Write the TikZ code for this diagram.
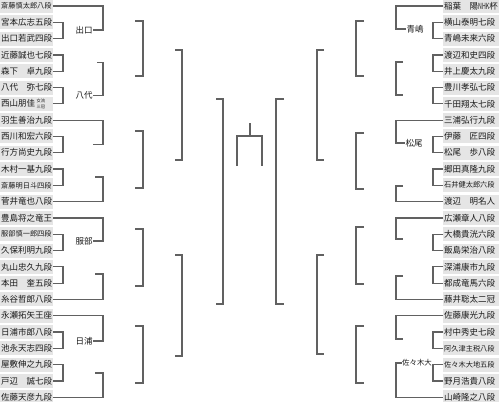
\documentclass[tikz,border=0pt]{standalone}
\usepackage{fontspec}
\setmainfont{Noto Sans CJK JP}
\newcommand{\nhk}{\scalebox{0.62}[1]{NHK}}
\newcommand{\stk}[2]{\raisebox{-2pt}{\fontsize{4.2}{5}\selectfont\vbox{\offinterlineskip\hbox{#1}\kern2pt\hbox{#2}}}}
\begin{document}
\begin{tikzpicture}[x=1pt,y=-1pt,
  ln/.style={draw=black!62, line width=1.2pt},
  lname/.style={fill=black!10, inner xsep=1pt, inner ysep=0pt, minimum height=14pt, text width=51pt, align=left, anchor=west, font=\fontsize{8.5}{9}\selectfont, text=black!90},
  rname/.style={lname, text width=54pt},
  nmsmall/.style={font=\fontsize{7.2}{8}\selectfont},
  lab/.style={inner sep=0pt, font=\fontsize{8.5}{9}\selectfont, text=black!90}]
\useasboundingbox (0,0) rectangle (499,402);

% left names
\node[lname,nmsmall] (L1) at (0,6) {斎藤慎太郎八段};
\node[lname] (L2) at (0,22.3) {宮本広志五段};
\node[lname] (L3) at (0,38.6) {出口若武四段};
\node[lname] (L4) at (0,54.9) {近藤誠也七段};
\node[lname] (L5) at (0,71.2) {森下　卓九段};
\node[lname] (L6) at (0,87.5) {八代　弥七段};
\node[lname] (L7) at (0,103.8) {西山朋佳\,\stk{女流}{三冠}};
\node[lname] (L8) at (0,120.1) {羽生善治九段};
\node[lname] (L9) at (0,136.4) {西川和宏六段};
\node[lname] (L10) at (0,152.7) {行方尚史九段};
\node[lname] (L11) at (0,169) {木村一基九段};
\node[lname,nmsmall] (L12) at (0,185.3) {斎藤明日斗四段};
\node[lname] (L13) at (0,201.6) {菅井竜也八段};
\node[lname] (L14) at (0,217.9) {豊島将之竜王};
\node[lname,nmsmall] (L15) at (0,234.2) {服部慎一郎四段};
\node[lname] (L16) at (0,250.5) {久保利明九段};
\node[lname] (L17) at (0,266.8) {丸山忠久九段};
\node[lname] (L18) at (0,283.1) {本田　奎五段};
\node[lname] (L19) at (0,299.4) {糸谷哲郎八段};
\node[lname] (L20) at (0,315.7) {永瀬拓矢王座};
\node[lname] (L21) at (0,332) {日浦市郎八段};
\node[lname] (L22) at (0,348.3) {池永天志四段};
\node[lname] (L23) at (0,364.6) {屋敷伸之九段};
\node[lname] (L24) at (0,380.9) {戸辺　誠七段};
\node[lname] (L25) at (0,397.2) {佐藤天彦九段};

% right names
\node[rname] (R1) at (443,6) {稲葉　陽\nhk 杯};
\node[rname] (R2) at (443,22.3) {横山泰明七段};
\node[rname] (R3) at (443,38.6) {青嶋未来六段};
\node[rname] (R4) at (443,54.9) {渡辺和史四段};
\node[rname] (R5) at (443,71.2) {井上慶太九段};
\node[rname] (R6) at (443,87.5) {豊川孝弘七段};
\node[rname] (R7) at (443,103.8) {千田翔太七段};
\node[rname] (R8) at (443,120.1) {三浦弘行九段};
\node[rname] (R9) at (443,136.4) {伊藤　匠四段};
\node[rname] (R10) at (443,152.7) {松尾　歩八段};
\node[rname] (R11) at (443,169) {郷田真隆九段};
\node[rname,nmsmall] (R12) at (443,185.3) {石井健太郎六段};
\node[rname] (R13) at (443,201.6) {渡辺　明名人};
\node[rname] (R14) at (443,217.9) {広瀬章人八段};
\node[rname] (R15) at (443,234.2) {大橋貴洸六段};
\node[rname] (R16) at (443,250.5) {飯島栄治八段};
\node[rname] (R17) at (443,266.8) {深浦康市九段};
\node[rname] (R18) at (443,283.1) {都成竜馬六段};
\node[rname] (R19) at (443,299.4) {藤井聡太二冠};
\node[rname] (R20) at (443,315.7) {佐藤康光九段};
\node[rname] (R21) at (443,332) {村中秀史七段};
\node[rname,nmsmall] (R22) at (443,348.3) {阿久津主税八段};
\node[rname,nmsmall] (R23) at (443,364.6) {佐々木大地五段};
\node[rname] (R24) at (443,380.9) {野月浩貴八段};
\node[rname] (R25) at (443,397.2) {山崎隆之八段};

% labels
\node[lab] (Q1) at (84,30) {出口};
\node[lab] (Q2) at (84,95.5) {八代};
\node[lab] (Q3) at (84,241) {服部};
\node[lab] (Q4) at (84,341) {日浦};
\node[lab] (P1) at (415,29) {青嶋};
\node[lab] (P2) at (414,143) {松尾};
\node[lab,font=\fontsize{7.4}{8}\selectfont] (P3) at (417,363) {佐々木大};

% first round pairs
\coordinate (px) at (63,0);
\coordinate (rpx) at (433,0);
\foreach \a/\b in {2/3,4/5,6/7,9/10,11/12,15/16,17/18,21/22,23/24}{
  \draw[ln] (L\a.east) -- (L\a.east -| px) |- (L\b.east);
  \draw[ln] (R\a.west) -- (R\a.west -| rpx) |- (R\b.west);
}

% left second level
\coordinate (qx) at (103,0);
\coordinate (s2) at (97,62.5);
\coordinate (s3) at (93,144.5);
\coordinate (s4) at (95,177);
\coordinate (s6) at (95,274);
\coordinate (s8) at (95,373);
\draw[ln] (L1.east) -- (L1.east -| qx) |- (Q1.east);
\draw[ln] (s2) -- (s2 -| qx) |- (Q2.east);
\draw[ln] (L8.east) -- (L8.east -| qx) |- (s3);
\draw[ln] (s4) -- (s4 -| qx) |- (L13.east);
\draw[ln] (L14.east) -- (L14.east -| qx) |- (Q3.east);
\draw[ln] (s6) -- (s6 -| qx) |- (L19.east);
\draw[ln] (L20.east) -- (L20.east -| qx) |- (Q4.east);
\draw[ln] (s8) -- (s8 -| qx) |- (L25.east);

% right second level
\coordinate (rqx) at (396,0);
\coordinate (t2) at (403,62);
\coordinate (t2b) at (403,95);
\coordinate (t4) at (403,186);
\coordinate (t5) at (403,239);
\coordinate (t6) at (403,276);
\coordinate (t7) at (403,339);
\draw[ln] (R1.west) -- (R1.west -| rqx) |- (P1.west);
\draw[ln] (t2) -- (t2 -| rqx) |- (t2b);
\draw[ln] (R8.west) -- (R8.west -| rqx) |- (P2.west);
\draw[ln] (t4) -- (t4 -| rqx) |- (R13.west);
\draw[ln] (R14.west) -- (R14.west -| rqx) |- (t5);
\draw[ln] (t6) -- (t6 -| rqx) |- (R19.west);
\draw[ln] (R20.west) -- (R20.west -| rqx) |- (t7);
\draw[ln] (P3.west) -- (P3.west -| rqx) |- (R25.west);

% floating brackets
\foreach \xs/\xv/\t/\b [count=\i] in {135/143/21/76, 135/143/131/188, 135/143/229/286, 135/143/326/383,
   175/182/50/160, 175/182/255/356, 216/223/99/304,
   364/356/21/76, 364/356/133/189, 364/356/227/284, 364/356/326/383,
   324/317/50/160, 324/317/255/354, 284/276/99/304}{
  \coordinate (f\i-t) at (\xs,\t);
  \coordinate (f\i-b) at (\xs,\b);
  \coordinate (f\i-v) at (\xv,0);
  \draw[ln] (f\i-t) -- (f\i-t -| f\i-v) |- (f\i-b);
}

% final
\coordinate (ftop) at (250,123);
\coordinate (fmid) at (250,136);
\coordinate (fl) at (237,166);
\coordinate (fr) at (262,166);
\draw[ln] (ftop) -- (fmid);
\draw[ln] (fl) |- (fmid) -| (fr);
\end{tikzpicture}
\end{document}
